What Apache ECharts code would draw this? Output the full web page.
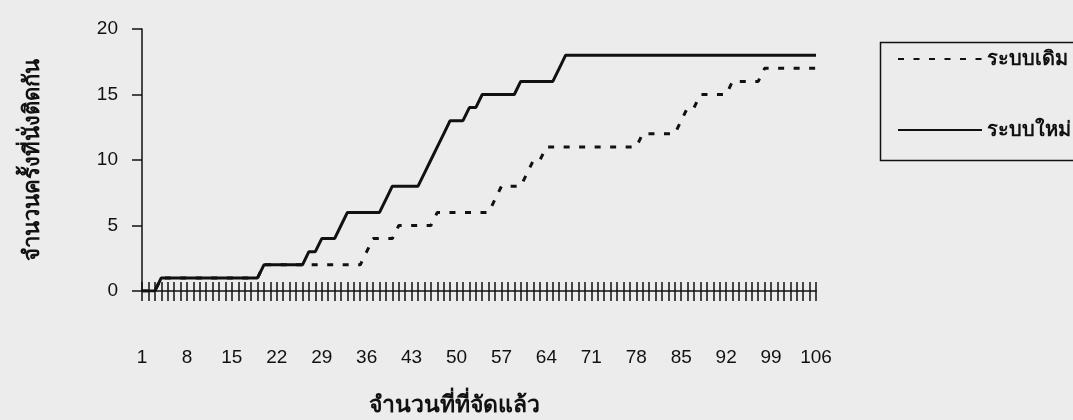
<!DOCTYPE html>
<html>
<head>
<meta charset="utf-8">
<script src="https://cdn.jsdelivr.net/npm/echarts@6/dist/echarts.min.js"></script>
<style>
html,body{margin:0;padding:0;background:#ececec;}
#c{width:1073px;height:420px;}
</style>
</head>
<body>
<div id="c"></div>
<script>
const categories = [
  1,2,3,4,5,6,7,8,9,10,11,12,13,14,15,16,17,18,19,20,
  21,22,23,24,25,26,27,28,29,30,31,32,33,34,35,36,37,38,39,40,
  41,42,43,44,45,46,47,48,49,50,51,52,53,54,55,56,57,58,59,60,
  61,62,63,64,65,66,67,68,69,70,71,72,73,74,75,76,77,78,79,80,
  81,82,83,84,85,86,87,88,89,90,91,92,93,94,95,96,97,98,99,100,
  101,102,103,104,105,106
];
// ระบบเดิม (dashed)
const oldSystem = [
  0,0,0,1,1,1,1,1,1,1,1,1,1,1,1,1,1,1,1,2,
  2,2,2,2,2,2,2,2,2,2,2,2,2,2,2,3,4,4,4,4,
  5,5,5,5,5,5,6,6,6,6,6,6,6,6,6,7,8,8,8,8,
  9,10,10,11,11,11,11,11,11,11,11,11,11,11,11,11,11,11,12,12,
  12,12,12,12,13,14,14,15,15,15,15,15,16,16,16,16,16,17,17,17,
  17,17,17,17,17,17
];
// ระบบใหม่ (solid)
const newSystem = [
  0,0,0,1,1,1,1,1,1,1,1,1,1,1,1,1,1,1,1,2,
  2,2,2,2,2,2,3,3,4,4,4,5,6,6,6,6,6,6,7,8,
  8,8,8,8,9,10,11,12,13,13,13,14,14,15,15,15,15,15,15,16,
  16,16,16,16,16,17,18,18,18,18,18,18,18,18,18,18,18,18,18,18,
  18,18,18,18,18,18,18,18,18,18,18,18,18,18,18,18,18,18,18,18,
  18,18,18,18,18,18
];
const seriesNames = ['ระบบเดิม', 'ระบบใหม่'];
const yTitle = 'จำนวนครั้งที่นั่งติดกัน';
const xTitle = 'จำนวนที่ที่จัดแล้ว';

const chart = echarts.init(document.getElementById('c'), null, {renderer: 'canvas'});
const txt = '#111';
chart.setOption({
  backgroundColor: '#ececec',
  animation: false,
  textStyle: {fontFamily: 'Liberation Sans, Arial, sans-serif'},
  grid: {left: 142, right: 257, top: 29, bottom: 129},
  legend: {
    orient: 'vertical', left: 892, top: 44,
    itemWidth: 84, itemHeight: 20, itemGap: 51,
    itemStyle: {opacity: 0},
    textStyle: {fontSize: 20, fontWeight: 'bold', color: txt},
    data: seriesNames
  },
  graphic: [{
    type: 'rect', left: 878, top: 40,
    shape: {width: 300, height: 118},
    style: {fill: 'none', stroke: '#111', lineWidth: 1.5}
  }, {
    type: 'text', left: 369, top: 394,
    style: {text: xTitle, fontSize: 23, fontWeight: 'bold', fill: txt,
            fontFamily: 'Liberation Sans, Arial, sans-serif'}
  }],
  xAxis: [{
    type: 'category', data: categories, boundaryGap: false,
    axisLine: {show: true, lineStyle: {color: '#111', width: 1.5}},
    axisTick: {show: true, interval: 0, length: 10, lineStyle: {color: '#111', width: 1.5}},
    axisLabel: {interval: 6, margin: 57, fontSize: 19, color: txt}
  }, {
    type: 'category', data: categories, boundaryGap: false, position: 'bottom',
    axisLine: {show: false},
    axisTick: {show: true, inside: true, interval: 0, length: 9, lineStyle: {color: '#111', width: 1.5}},
    axisLabel: {show: false}
  }],
  yAxis: {
    type: 'value', min: 0, max: 20, interval: 5,
    axisLine: {show: true, lineStyle: {color: '#111', width: 1.5}},
    axisTick: {show: true, length: 10, lineStyle: {color: '#111', width: 1.5}},
    axisLabel: {margin: 24, fontSize: 19, color: txt},
    splitLine: {show: false},
    name: yTitle, nameLocation: 'middle', nameGap: 98, nameRotate: 90,
    nameTextStyle: {fontSize: 22, fontWeight: 'bold', color: txt}
  },
  series: [{
    name: seriesNames[0], type: 'line', data: oldSystem, symbol: 'none',
    lineStyle: {color: '#111', width: 3, type: [6, 9.5]},
    itemStyle: {color: '#111'}
  }, {
    name: seriesNames[1], type: 'line', data: newSystem, symbol: 'none',
    lineStyle: {color: '#111', width: 3, type: 'solid'},
    itemStyle: {color: '#111'}
  }]
});
</script>
</body>
</html>
